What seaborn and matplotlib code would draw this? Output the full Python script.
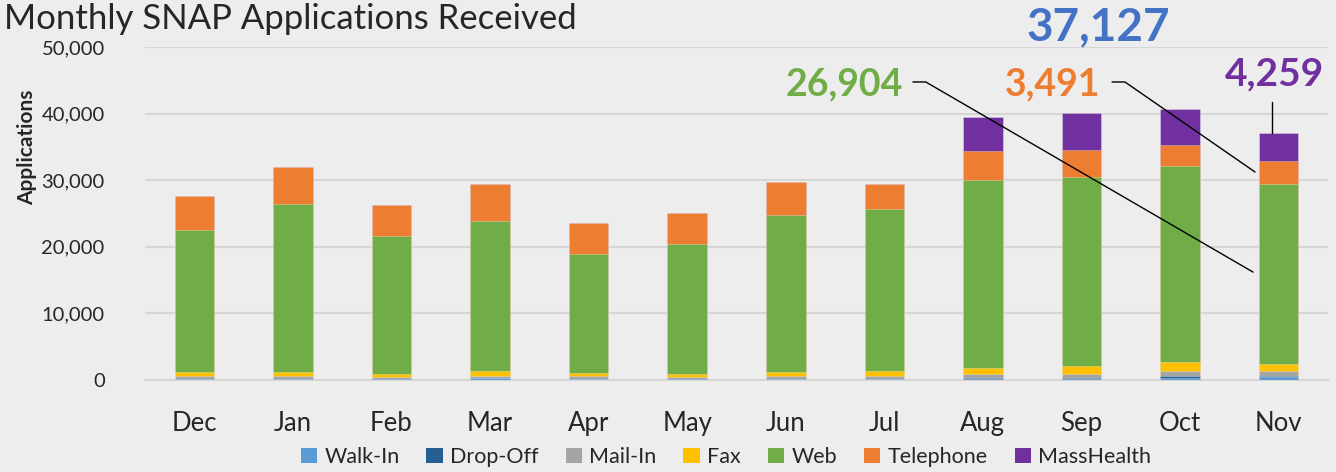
import matplotlib
matplotlib.use("Agg")
import matplotlib.pyplot as plt
import seaborn as sns
import numpy as np
import pandas as pd
from matplotlib.patches import Patch

months = ["Dec", "Jan", "Feb", "Mar", "Apr", "May", "Jun", "Jul", "Aug", "Sep", "Oct", "Nov"]
walk_in = [100, 100, 80, 250, 100, 80, 100, 150, 200, 200, 300, 500]
drop_off = [30, 30, 20, 30, 30, 30, 30, 50, 50, 60, 250, 120]
mail_in = [500, 500, 280, 350, 400, 360, 400, 400, 600, 700, 750, 700]
fax = [520, 520, 520, 670, 520, 480, 620, 700, 1000, 1100, 1350, 1153]
web = [21370, 25280, 20720, 22570, 17870, 19470, 23620, 24380, 28180, 28420, 29480, 26904]
telephone = [5110, 5550, 4660, 5560, 4650, 4655, 4960, 3750, 4350, 4050, 3160, 3491]
masshealth = [0, 0, 0, 0, 0, 0, 0, 0, 5110, 5560, 5400, 4259]

series_names = ["Walk-In", "Drop-Off", "Mail-In", "Fax", "Web", "Telephone", "MassHealth"]
series_vals = [walk_in, drop_off, mail_in, fax, web, telephone, masshealth]
colors = ["#5B9BD5", "#255E91", "#A5A5A5", "#FFC000", "#70AD47", "#ED7D31", "#7030A0"]

title = "Monthly SNAP Applications Received"
yticks = [0, 10000, 20000, 30000, 40000, 50000]
ytick_labels = ["0", "10,000", "20,000", "30,000", "40,000", "50,000"]

bg = "#EDEDED"
sns.set_theme(style="white")
plt.rcParams["font.family"] = ["Lato", "DejaVu Sans"]

fig = plt.figure(figsize=(13.36, 4.72), dpi=100, facecolor=bg)
ax = fig.add_axes([145 / 1336, 92 / 472, 1183 / 1336, 333 / 472])
ax.set_facecolor(bg)

df = pd.DataFrame({"month": months})
cum = np.cumsum(np.array(series_vals), axis=0)
for i in range(len(series_names) - 1, -1, -1):
    df["v"] = cum[i]
    sns.barplot(data=df, x="month", y="v", color=colors[i], width=0.4,
                edgecolor=(1, 1, 1, 0.35), linewidth=0.6, saturation=1, ax=ax, zorder=3)

ax.set_ylim(0, 50000)
ax.set_xlim(-0.5, 11.5)
ax.set_yticks(yticks)
ax.set_yticklabels(ytick_labels, fontsize=14.5)
ax.yaxis.grid(True, color="#D6D6D6", linewidth=1.5, zorder=0)
ax.set_axisbelow(True)
for s in ["top", "right", "left"]:
    ax.spines[s].set_visible(False)
ax.spines["bottom"].set_color("#D6D6D6")
ax.spines["bottom"].set_linewidth(1.5)
ax.tick_params(axis="y", length=0, pad=29)
ax.set_xticks(np.arange(-0.5, 12, 1), minor=True)
ax.tick_params(axis="x", which="major", length=0, labelsize=18.5, pad=22)
ax.tick_params(axis="x", which="minor", length=6, width=1.5, color="#D6D6D6")
ax.set_xlabel("")
ax.set_ylabel("Applications", fontsize=15, fontweight="bold")
ax.yaxis.set_label_coords(-108 / 1183, 0.70)

# Annotations
ax.text(9.17, 53000, "37,127", color="#4472C4", fontsize=33, fontweight="bold",
        ha="center", va="center", clip_on=False)
ax.text(7.19, 44300, "26,904", color="#70AD47", fontsize=27, fontweight="bold",
        ha="right", va="center", clip_on=False)
ax.text(9.19, 44300, "3,491", color="#ED7D31", fontsize=27, fontweight="bold",
        ha="right", va="center", clip_on=False)
ax.text(10.96, 46000, "4,259", color="#7030A0", fontsize=28, fontweight="bold",
        ha="center", va="center", clip_on=False)
ax.plot([7.29, 7.42, 10.74], [44750, 44750, 16200], color="black", lw=1.0,
        clip_on=False, zorder=5)
ax.plot([9.31, 9.44, 10.76], [44750, 44750, 31230], color="black", lw=1.0,
        clip_on=False, zorder=5)
ax.plot([10.93, 10.93], [41740, 37127], color="black", lw=1.0, clip_on=False, zorder=5)

fig.text(4 / 1336, 1 - 29 / 472, title, fontsize=25, ha="left", va="baseline")

handles = [Patch(facecolor=c, edgecolor="none", label=n) for n, c in zip(series_names, colors)]
fig.legend(handles=handles, loc="center", bbox_to_anchor=(726 / 1336, 1 - 457 / 472),
           ncol=7, frameon=False, fontsize=15.5, handlelength=0.75, handleheight=0.75,
           handletextpad=0.35, columnspacing=1.25)

fig.savefig("out.png", dpi=100, facecolor=bg)
